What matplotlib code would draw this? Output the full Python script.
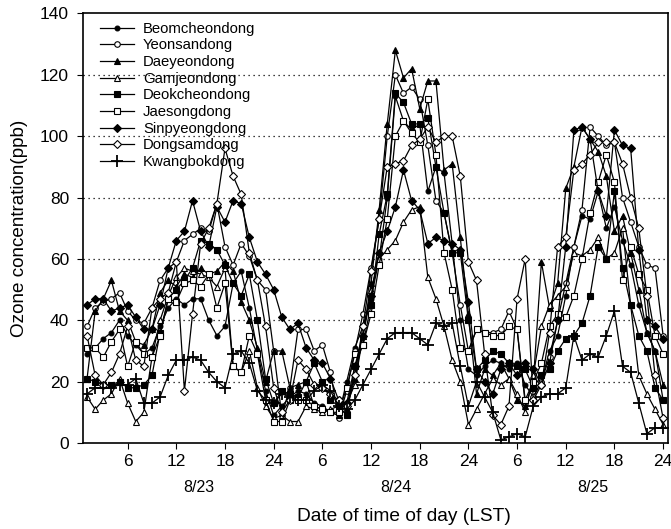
import numpy as np
import matplotlib
matplotlib.use("Agg")
import matplotlib.pyplot as plt
import matplotlib.transforms as mtransforms

plt.rcParams['font.family'] = ['Liberation Sans', 'DejaVu Sans']

hours = list(range(1, 73))

beomcheondong = [29, 31, 34, 36, 40, 35, 32, 29, 31, 38, 44, 47, 45, 47, 47, 40, 35, 38, 52, 56, 44, 30, 17, 9,
                 12, 15, 17, 16, 13, 12, 10, 9, 20, 31, 38, 47, 60, 80, 113, 105, 102, 104, 82, 90, 88, 65, 40, 24,
                 22, 25, 27, 26, 24, 26, 19, 15, 20, 30, 35, 48, 64, 74, 73, 82, 70, 77, 66, 58, 45, 36, 30, 14]
yeonsandong = [38, 44, 46, 47, 49, 43, 40, 39, 44, 53, 57, 59, 66, 68, 70, 69, 78, 64, 58, 65, 61, 53, 50, 30,
               9, 18, 37, 37, 30, 32, 23, 8, 17, 30, 42, 57, 73, 100, 120, 114, 116, 112, 97, 79, 75, 62, 45, 30,
               37, 36, 36, 37, 43, 37, 13, 15, 20, 28, 40, 52, 64, 76, 103, 100, 97, 98, 80, 72, 64, 58, 57, 35]
daeyeondong = [21, 43, 47, 53, 43, 40, 33, 32, 37, 49, 53, 51, 55, 54, 57, 55, 56, 59, 56, 46, 40, 31, 20, 30,
               30, 18, 19, 20, 12, 11, 10, 9, 11, 21, 35, 52, 76, 104, 128, 119, 122, 109, 118, 118, 89, 91, 67, 42,
               16, 24, 22, 26, 21, 14, 12, 20, 59, 44, 52, 83, 90, 103, 99, 95, 87, 69, 74, 62, 50, 36, 30, 19]
gamjeondong = [15, 11, 14, 16, 21, 13, 7, 10, 28, 40, 48, 54, 57, 56, 55, 54, 51, 57, 25, 23, 30, 18, 12, 8,
               9, 7, 7, 12, 11, 10, 11, 12, 13, 19, 35, 50, 60, 63, 66, 72, 76, 77, 54, 47, 38, 27, 20, 6,
               11, 16, 21, 19, 21, 16, 10, 22, 38, 45, 48, 51, 62, 61, 63, 67, 60, 62, 70, 45, 22, 16, 11, 6]
deokcheondong = [21, 20, 19, 19, 20, 18, 18, 19, 22, 36, 47, 50, 53, 57, 66, 65, 63, 58, 52, 48, 55, 40, 21, 13,
                 17, 16, 15, 20, 26, 20, 14, 12, 9, 25, 32, 45, 68, 81, 114, 111, 104, 104, 106, 90, 75, 62, 62, 40,
                 24, 27, 30, 29, 26, 25, 24, 18, 22, 24, 30, 34, 35, 39, 48, 64, 60, 82, 57, 45, 35, 30, 18, 14]
jaesongdong = [31, 31, 28, 33, 37, 25, 33, 29, 28, 35, 47, 46, 52, 53, 51, 55, 44, 52, 25, 23, 35, 29, 14, 7,
               7, 14, 14, 14, 12, 11, 10, 10, 18, 29, 32, 42, 58, 73, 100, 105, 101, 98, 112, 94, 62, 50, 31, 30,
               37, 36, 35, 35, 38, 37, 14, 20, 26, 38, 42, 41, 48, 60, 75, 85, 94, 85, 53, 64, 55, 50, 35, 29]
sinpyeongdong = [45, 47, 47, 43, 44, 45, 41, 37, 37, 45, 57, 66, 69, 79, 69, 64, 77, 72, 79, 78, 67, 59, 55, 50,
                 41, 37, 39, 31, 27, 26, 21, 14, 13, 25, 35, 48, 62, 69, 77, 89, 79, 76, 65, 67, 66, 65, 63, 46,
                 24, 20, 16, 24, 26, 22, 26, 24, 19, 26, 40, 64, 102, 103, 99, 82, 74, 102, 97, 96, 63, 40, 38, 34]
dongsamdong = [35, 22, 19, 23, 29, 38, 27, 25, 44, 47, 49, 59, 17, 42, 65, 70, 78, 96, 87, 81, 62, 53, 38, 18,
               10, 14, 27, 24, 19, 18, 16, 14, 12, 22, 38, 56, 73, 90, 91, 92, 97, 99, 103, 98, 100, 100, 87, 59,
               53, 29, 9, 6, 12, 47, 60, 14, 19, 36, 64, 67, 89, 91, 94, 98, 98, 98, 91, 80, 70, 48, 22, 8]
kwangbokdong = [16, 18, 18, 18, 19, 19, 21, 13, 13, 15, 22, 27, 27, 28, 27, 23, 20, 18, 29, 30, 26, 17, 14, 13,
                16, 15, 14, 14, 17, 19, 17, 12, 11, 14, 19, 24, 29, 34, 36, 36, 36, 34, 32, 39, 38, 39, 25, 12,
                20, 15, 10, 1, 2, 3, 2, 12, 15, 16, 16, 18, 35, 27, 29, 28, 35, 43, 25, 23, 13, 3, 5, 5]

station_names = ["Beomcheondong", "Yeonsandong", "Daeyeondong", "Gamjeondong", "Deokcheondong",
                 "Jaesongdong", "Sinpyeongdong", "Dongsamdong", "Kwangbokdong"]
series = [beomcheondong, yeonsandong, daeyeondong, gamjeondong, deokcheondong,
          jaesongdong, sinpyeongdong, dongsamdong, kwangbokdong]

tick_positions = list(range(6, 73, 6))
tick_labels = ["6", "12", "18", "24"] * 3
date_labels = ["8/23", "8/24", "8/25"]
date_positions = [14.8, 39.05, 63.3]
yticks = [0, 20, 40, 60, 80, 100, 120, 140]

styles = [
    dict(marker='o', ms=3.5, mfc='black'),
    dict(marker='o', ms=4, mfc='white'),
    dict(marker='^', ms=4, mfc='black'),
    dict(marker='^', ms=4.5, mfc='white'),
    dict(marker='s', ms=4, mfc='black'),
    dict(marker='s', ms=4, mfc='white'),
    dict(marker='D', ms=3.8, mfc='black'),
    dict(marker='D', ms=4, mfc='white'),
    dict(marker='+', ms=8, mfc='black', mew=1.3),
]

fig = plt.figure(figsize=(6.71, 5.29), dpi=100)
ax = fig.add_axes([0.1237, 0.1626, 0.8718, 0.8119])

for name, vals, st in zip(station_names, series, styles):
    kw = dict(color='black', lw=0.9, mec='black')
    kw.update(st)
    if 'mew' not in kw:
        kw['mew'] = 0.8
    ax.plot(hours, vals, label=name, **kw)

ax.set_xlim(0.5, 72.6)
ax.set_ylim(0, 140)
ax.set_yticks(yticks)
ax.set_xticks(tick_positions)
ax.set_xticklabels(tick_labels, fontsize=12.5)
ax.tick_params(axis='y', labelsize=12.5, direction='out', length=4, pad=6)
ax.tick_params(axis='x', direction='out', length=4, pad=4)
for v in yticks[1:-1]:
    ax.axhline(v, color='black', lw=0.9, ls=(0, (1, 3)), zorder=0)

trans = mtransforms.blended_transform_factory(ax.transData, ax.transAxes)
for pos, d in zip(date_positions, date_labels):
    ax.text(pos, -0.1025, d, transform=trans, ha='center', va='center', fontsize=11.5)

ax.set_ylabel("Ozone concentration(ppb)", fontsize=13.6, labelpad=9)
fig.text(0.602, 0.0227, "Date of time of day (LST)", ha='center', va='center', fontsize=13.8)

for sp in ax.spines.values():
    sp.set_linewidth(1.2)

ax.legend(loc='upper left', bbox_to_anchor=(0.0114, 1.005), frameon=False, fontsize=10.7,
          handlelength=2.3, handletextpad=0.6, labelspacing=0.18, borderaxespad=0.3)

fig.savefig("out.png", dpi=100)
